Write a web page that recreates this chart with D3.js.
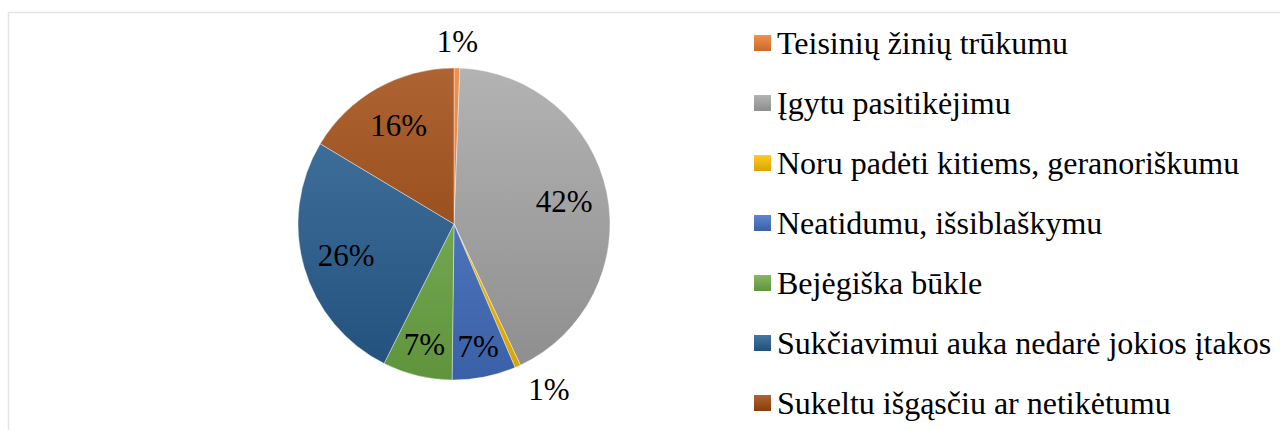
<!DOCTYPE html>
<html>
<head>
<meta charset="utf-8">
<script src="https://cdn.jsdelivr.net/npm/d3@7"></script>
<style>
  html, body { margin: 0; padding: 0; background: #fff; }
  svg { display: block; }
  svg text { font-family: "Liberation Serif", "Times New Roman", serif; }
</style>
</head>
<body>
<svg id="chart" width="1280" height="430"></svg>
<script>
// chart data
var categories = [
  "Teisinių žinių trūkumu",
  "Įgytu pasitikėjimu",
  "Noru padėti kitiems, geranoriškumu",
  "Neatidumu, išsiblaškymu",
  "Bejėgiška būkle",
  "Sukčiavimui auka nedarė jokios įtakos",
  "Sukeltu išgąsčiu ar netikėtumu"
];
var shares = [0.6, 42.4, 0.6, 6.6, 7.2, 26.2, 16.4];
var colors = ["#ED7D31", "#A5A5A5", "#FFC000", "#4472C4", "#70AD47", "#255E91", "#9E480E"];

var svg = d3.select("#chart");
var W = +svg.attr("width"), H = +svg.attr("height");

// chart area border (clipped at right/bottom like the source)
svg.append("path")
  .attr("d", "M8.5," + H + "V12.5H" + W)
  .attr("fill", "none")
  .attr("stroke", "#e1e4e8")
  .attr("stroke-width", 1.5);

var cx = 454, cy = 224, R = 156;

function topShade(c) { return d3.interpolateRgb(c, "#fff")(0.15); }
function bottomShade(c) { return d3.color(c).darker(0.45); }

var defs = svg.append("defs");
colors.forEach(function(c, i) {
  var g = defs.append("linearGradient")
    .attr("id", "pieGrad" + i)
    .attr("gradientUnits", "userSpaceOnUse")
    .attr("x1", 0).attr("y1", -R).attr("x2", 0).attr("y2", R);
  g.append("stop").attr("offset", "0").attr("stop-color", topShade(c));
  g.append("stop").attr("offset", "1").attr("stop-color", bottomShade(c));

  var lg = defs.append("linearGradient")
    .attr("id", "legGrad" + i)
    .attr("x1", 0).attr("y1", 0).attr("x2", 0).attr("y2", 1);
  lg.append("stop").attr("offset", "0").attr("stop-color", topShade(c));
  lg.append("stop").attr("offset", "1").attr("stop-color", bottomShade(c));
});

var pie = d3.pie().sort(null).value(function(d) { return d; });
var arcs = pie(shares);
var arc = d3.arc().innerRadius(0).outerRadius(R);

svg.append("g")
  .attr("transform", "translate(" + cx + "," + cy + ")")
  .selectAll("path")
  .data(arcs)
  .enter().append("path")
  .attr("d", arc)
  .attr("fill", function(d, i) { return "url(#pieGrad" + i + ")"; })
  .attr("stroke", "#fff")
  .attr("stroke-width", 0.4);

// percentage labels, small slices go outside
var total = d3.sum(shares);
svg.append("g").selectAll("text")
  .data(arcs)
  .enter().append("text")
  .attr("font-size", 31)
  .attr("fill", "#000")
  .attr("dy", "0.33em")
  .each(function(d) {
    var a = (d.startAngle + d.endAngle) / 2;
    var frac = (d.endAngle - d.startAngle) / (2 * Math.PI);
    var r, anchor = "middle";
    if (frac < 0.03) {
      r = R + 26;
      if (Math.sin(a) > 0.2) anchor = "start";
      else if (Math.sin(a) < -0.2) anchor = "end";
    } else if (frac < 0.1) {
      r = R * 0.8;
    } else {
      r = R * 0.72;
    }
    d3.select(this)
      .attr("x", cx + r * Math.sin(a))
      .attr("y", cy - r * Math.cos(a))
      .attr("text-anchor", anchor)
      .text(Math.round(d.value / total * 100) + "%");
  });

// legend
var legX = 754, legY = 43, legStep = 60;
var leg = svg.append("g").selectAll("g")
  .data(categories)
  .enter().append("g")
  .attr("transform", function(d, i) { return "translate(" + legX + "," + (legY + i * legStep) + ")"; });

leg.append("rect")
  .attr("x", 0).attr("y", -8)
  .attr("width", 17).attr("height", 16)
  .attr("fill", function(d, i) { return "url(#legGrad" + i + ")"; });

leg.append("text")
  .attr("x", 23)
  .attr("y", 0)
  .attr("dy", "0.33em")
  .attr("font-size", 32)
  .attr("fill", "#000")
  .text(function(d) { return d; });
</script>
</body>
</html>
